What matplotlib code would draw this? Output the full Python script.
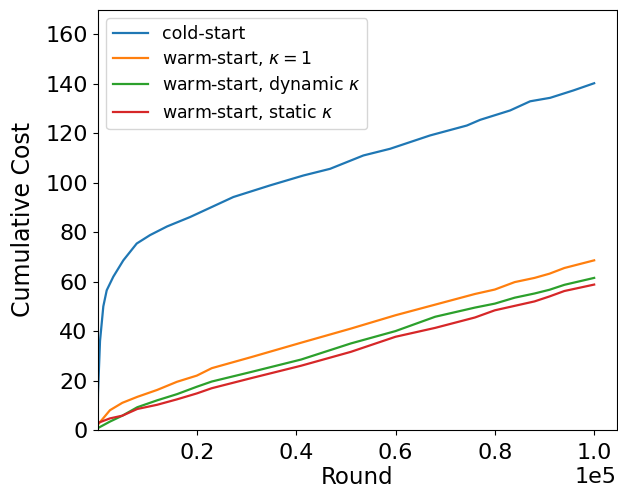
import matplotlib
matplotlib.use('Agg')
import matplotlib.pyplot as plt

# cold-start
rounds_cold = [0, 100, 504, 1168, 1853, 3182, 5196, 7895, 10574, 14000, 18630, 27351,
               34743, 41450, 46828, 53535, 58912, 62941, 66969, 74360, 77039,
               83082, 87110, 91138, 95831, 100000]
cost_cold = [0, 15, 36, 50, 56.5, 62, 68.6, 75.4, 78.8, 82.3, 86.1, 94.2,
             98.9, 102.9, 105.6, 111, 113.7, 116.4, 119.1, 123.1, 125.4,
             129.2, 132.9, 134.3, 137.3, 140.2]

# warm-start series
rounds_warm = [0, 2500, 5000, 8000, 12000, 16000, 20000, 23000, 31000, 41000,
               51000, 60000, 68000, 76000, 80000, 84000, 88000, 91000, 94000, 100000]
cost_kappa1 = [2, 8, 11, 13.4, 16.2, 19.5, 22, 25, 29.5, 35.3,
               41, 46.4, 50.7, 55, 56.8, 59.8, 61.5, 63.2, 65.5, 68.6]
cost_dynamic = [0.7, 3.4, 5.8, 9.2, 12, 14.5, 17.5, 19.6, 23.5, 28.5,
                35, 40, 45.8, 49.5, 51.1, 53.5, 55.2, 56.7, 58.7, 61.5]
cost_static = [2.8, 4.7, 5.8, 8.5, 10.2, 12.4, 14.8, 16.9, 21, 26,
               31.6, 37.7, 41.3, 45.5, 48.4, 50.2, 52, 54, 56.2, 58.8]

fig = plt.figure(figsize=(6.18, 4.91), dpi=100)
ax = fig.add_axes([0.1578, 0.1242, 0.8406, 0.8564])

ax.plot(rounds_cold, cost_cold, color='tab:blue', lw=1.6, label='cold-start')
ax.plot(rounds_warm, cost_kappa1, color='tab:orange', lw=1.6, label=r'warm-start, $\kappa = 1$')
ax.plot(rounds_warm, cost_dynamic, color='tab:green', lw=1.6, label=r'warm-start, dynamic $\kappa$')
ax.plot(rounds_warm, cost_static, color='tab:red', lw=1.6, label=r'warm-start, static $\kappa$')

ax.set_xlim(0, 1.046e5)
ax.set_ylim(0, 170)
ax.set_xticks([20000, 40000, 60000, 80000, 100000])
ax.set_yticks(range(0, 161, 20))
ax.ticklabel_format(axis='x', style='sci', scilimits=(0, 0))
ax.tick_params(labelsize=16)
ax.tick_params(axis='x', pad=6)
ax.xaxis.get_offset_text().set_fontsize(16)
ax.set_xlabel('Round', fontsize=16.5, labelpad=2)
ax.set_ylabel('Cumulative Cost', fontsize=17, labelpad=7)
ax.legend(loc='upper left', fontsize=12.5, labelspacing=0.35)

fig.savefig('out.png', dpi=100)
